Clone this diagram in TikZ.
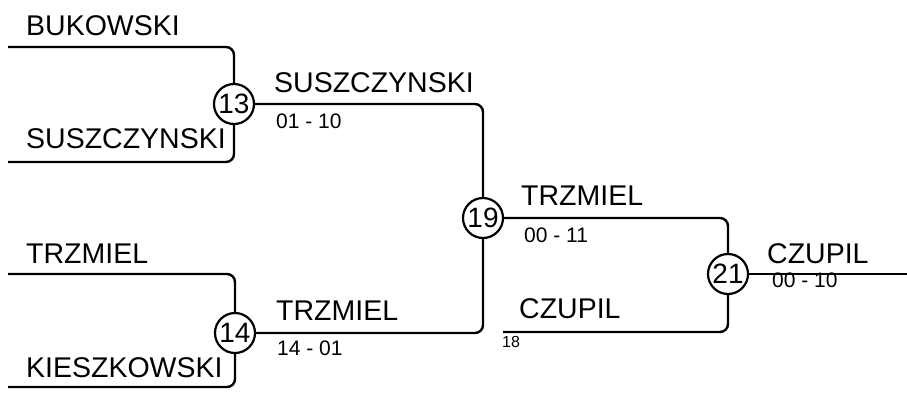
\documentclass[tikz,border=0pt]{standalone}
\usepackage{fontspec}
\setmainfont{Liberation Sans}
\tikzset{
  game/.style={circle, draw, line width=2.2pt, minimum size=40pt, inner sep=0pt,
    font=\fontsize{28}{28}\selectfont},
  player/.style={anchor=base west, inner sep=0pt, font=\fontsize{28.5}{28.5}\selectfont},
  score/.style={anchor=base west, inner sep=0pt, font=\fontsize{21}{21}\selectfont},
  seed/.style={anchor=base west, inner sep=0pt, font=\fontsize{16}{16}\selectfont},
  bracket/.style={line width=2.4pt, rounded corners=8pt},
}

\begin{document}
\begin{tikzpicture}[x=1pt, y=-1pt]
  \useasboundingbox (0,0) rectangle (907,392);
  % games
  \node [game] (m13) at (234,104) {13};
  \node [game] (m14) at (235,333) {14};
  \node [game] (m19) at (483,218) {19};
  \node [game] (m21) at (728,274) {21};
  % free ends
  \coordinate (e1) at (8,47);
  \coordinate (e2) at (8,162);
  \coordinate (e3) at (8,274);
  \coordinate (e4) at (8,387);
  \coordinate (e5) at (503,332);
  \coordinate (champ) at (907,274);
  % bracket lines
  \draw [bracket] (e1) -| (m13.north);
  \draw [bracket] (e2) -| (m13.south);
  \draw [bracket] (e3) -| (m14.north);
  \draw [bracket] (e4) -| (m14.south);
  \draw [bracket] (m13.east) -| (m19.north);
  \draw [bracket] (m14.east) -| (m19.south);
  \draw [bracket] (m19.east) -| (m21.north);
  \draw [bracket] (e5) -| (m21.south);
  \draw [bracket] (m21.east) -- (champ);
  % names and scores
  \node [player] (p1) at (26,35) {BUKOWSKI};
  \node [player] (p2) at (26,148) {SUSZCZYNSKI};
  \node [player] (p3) at (26,263) {TRZMIEL};
  \node [player] (p4) at (26,377) {KIESZKOWSKI};
  \node [player] (w13) at (274,92) {SUSZCZYNSKI};
  \node [score] (s13) at (276,128) {01 - 10};
  \node [player] (w14) at (276,320) {TRZMIEL};
  \node [score] (s14) at (277,355) {14 - 01};
  \node [player] (w19) at (521,205) {TRZMIEL};
  \node [score] (s19) at (524,242) {00 - 11};
  \node [player] (p5) at (519,318) {CZUPIL};
  \node [seed] (s5) at (502,347) {18};
  \node [player] (w21) at (767,263) {CZUPIL};
  \node [score] (s21) at (772,287) {00 - 10};
\end{tikzpicture}
\end{document}
